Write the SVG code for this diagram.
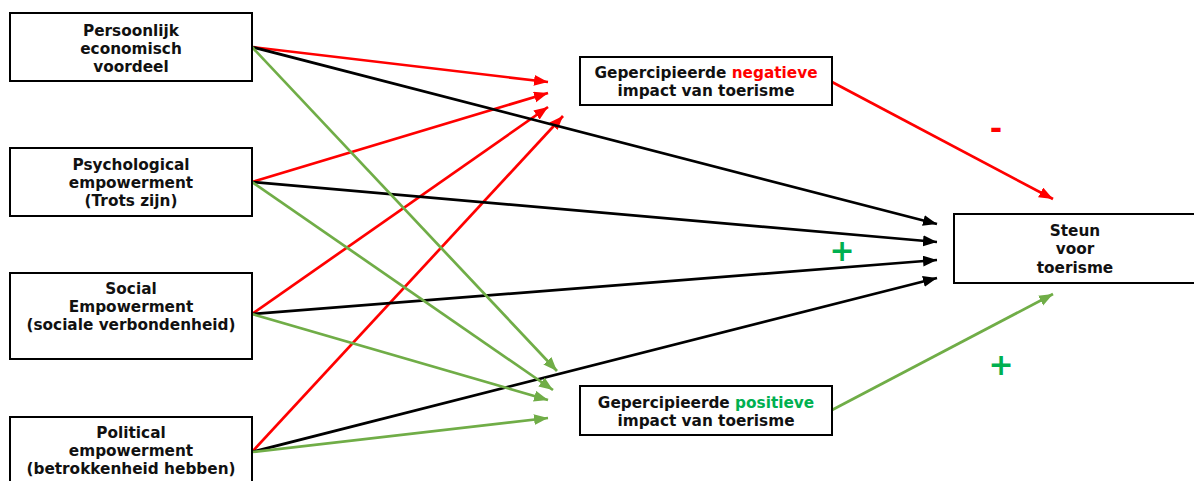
<svg xmlns="http://www.w3.org/2000/svg" width="1194" height="481" viewBox="0 0 1194 481">
<style>
.box{fill:#fff;stroke:#000;stroke-width:2}
.t{font-family:"DejaVu Sans","Verdana",sans-serif;font-weight:bold;font-size:15.3px;fill:#111;text-anchor:middle}
.r{stroke:#ff0000;stroke-width:2.7;fill:none;marker-end:url(#ar)}
.k{stroke:#000;stroke-width:2.7;fill:none;marker-end:url(#ak)}
.g{stroke:#70ad47;stroke-width:2.7;fill:none;marker-end:url(#ag)}
.sign{font-family:"DejaVu Sans",sans-serif;font-weight:bold;font-size:30px;text-anchor:middle}
</style>
<defs>
<marker id="ar" markerUnits="userSpaceOnUse" markerWidth="15" markerHeight="12" refX="14" refY="5.5" orient="auto"><path d="M0,0 L14,5.5 L0,11 Z" fill="#ff0000"/></marker>
<marker id="ak" markerUnits="userSpaceOnUse" markerWidth="15" markerHeight="12" refX="14" refY="5.5" orient="auto"><path d="M0,0 L14,5.5 L0,11 Z" fill="#000"/></marker>
<marker id="ag" markerUnits="userSpaceOnUse" markerWidth="15" markerHeight="12" refX="14" refY="5.5" orient="auto"><path d="M0,0 L14,5.5 L0,11 Z" fill="#70ad47"/></marker>
</defs>
<rect width="1194" height="481" fill="#fff"/>
<g id="connectors">
<line class="r" x1="252" y1="47" x2="548" y2="82"/>
<line class="r" x1="252" y1="182" x2="548" y2="93"/>
<line class="r" x1="252" y1="314" x2="548" y2="107"/>
<line class="r" x1="252" y1="452" x2="563" y2="116"/>
<line class="k" x1="252" y1="47" x2="937" y2="224"/>
<line class="k" x1="252" y1="182" x2="937" y2="242"/>
<line class="k" x1="252" y1="314" x2="937" y2="260"/>
<line class="k" x1="252" y1="452" x2="937" y2="278"/>
<line class="g" x1="252" y1="47" x2="557" y2="371"/>
<line class="g" x1="252" y1="182" x2="553" y2="390"/>
<line class="g" x1="252" y1="314" x2="548" y2="400"/>
<line class="g" x1="252" y1="452" x2="548" y2="418"/>
<line class="r" x1="832" y1="82" x2="1053" y2="199"/>
<line class="g" x1="832" y1="410" x2="1053" y2="294"/>
</g>
<g id="node-persoonlijk">
<rect class="box" x="10" y="13" width="242" height="68"/>
<text class="t" x="131" y="36">Persoonlijk</text>
<text class="t" x="131" y="54">economisch</text>
<text class="t" x="131" y="72">voordeel</text>
</g>
<g id="node-psychological">
<rect class="box" x="10" y="148" width="242" height="68"/>
<text class="t" x="131" y="170">Psychological</text>
<text class="t" x="131" y="188">empowerment</text>
<text class="t" x="131" y="206">(Trots zijn)</text>
</g>
<g id="node-social">
<rect class="box" x="10" y="273" width="242" height="86"/>
<text class="t" x="131" y="294">Social</text>
<text class="t" x="131" y="312">Empowerment</text>
<text class="t" x="131" y="330">(sociale verbondenheid)</text>
</g>
<g id="node-political">
<rect class="box" x="10" y="417" width="242" height="80"/>
<text class="t" x="131" y="438">Political</text>
<text class="t" x="131" y="456">empowerment</text>
<text class="t" x="131" y="474">(betrokkenheid hebben)</text>
</g>
<g id="node-negatief">
<rect class="box" x="580" y="57" width="252" height="48"/>
<text class="t" x="706" y="78">Gepercipieerde <tspan fill="#ff0000">negatieve</tspan></text>
<text class="t" x="706" y="96">impact van toerisme</text>
</g>
<g id="node-positief">
<rect class="box" x="580" y="386" width="252" height="49"/>
<text class="t" x="706" y="408">Gepercipieerde <tspan fill="#00b050">positieve</tspan></text>
<text class="t" x="706" y="426">impact van toerisme</text>
</g>
<g id="node-steun">
<rect class="box" x="954" y="214" width="244" height="69"/>
<text class="t" x="1075" y="236">Steun</text>
<text class="t" x="1075" y="254">voor</text>
<text class="t" x="1075" y="273">toerisme</text>
</g>
<g id="labels">
<text class="sign" x="996" y="139" fill="#ff0000">-</text>
<text class="sign" x="842" y="261" fill="#00b050">+</text>
<text class="sign" x="1001" y="375" fill="#00b050">+</text>
</g>
</svg>
